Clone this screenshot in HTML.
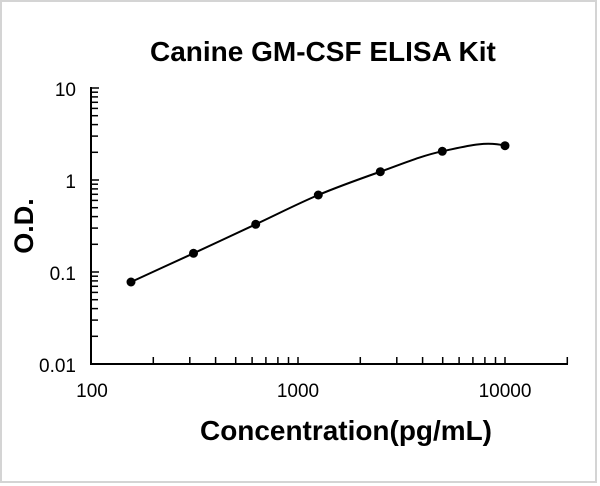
<!DOCTYPE html>
<html>
<head>
<meta charset="utf-8">
<style>
  html,body{margin:0;padding:0;background:#fff;}
  body{width:600px;height:486px;overflow:hidden;}
  svg{display:block;}
  text{font-family:"Liberation Sans", Arial, sans-serif;fill:#000;}
</style>
</head>
<body>
<svg width="600" height="486" viewBox="0 0 600 486" xmlns="http://www.w3.org/2000/svg">
  <rect x="0" y="0" width="600" height="486" fill="#fff"/>
  <!-- outer border -->
  <rect x="1" y="1" width="595" height="481" fill="none" stroke="#d4d4d4" stroke-width="2"/>

  <!-- Title -->
  <text x="150" y="61" font-size="28" font-weight="bold">Canine GM-CSF ELISA Kit</text>

  <!-- Axes -->
  <line x1="91" y1="87" x2="91" y2="365" stroke="#000" stroke-width="2"/>
  <line x1="90" y1="364" x2="568" y2="364" stroke="#000" stroke-width="2"/>

  <!-- Y ticks (inside, to the right) -->
  <g stroke="#000" stroke-width="1.5">
    <line x1="91" y1="88" x2="99" y2="88"/>
    <line x1="91" y1="180" x2="99" y2="180"/>
    <line x1="91" y1="272" x2="99" y2="272"/>
    <line x1="91" y1="336.3" x2="98" y2="336.3"/>
    <line x1="91" y1="320.1" x2="98" y2="320.1"/>
    <line x1="91" y1="308.6" x2="98" y2="308.6"/>
    <line x1="91" y1="299.7" x2="98" y2="299.7"/>
    <line x1="91" y1="292.4" x2="98" y2="292.4"/>
    <line x1="91" y1="286.3" x2="98" y2="286.3"/>
    <line x1="91" y1="280.9" x2="98" y2="280.9"/>
    <line x1="91" y1="276.2" x2="98" y2="276.2"/>
    <line x1="91" y1="244.3" x2="98" y2="244.3"/>
    <line x1="91" y1="228.1" x2="98" y2="228.1"/>
    <line x1="91" y1="216.6" x2="98" y2="216.6"/>
    <line x1="91" y1="207.7" x2="98" y2="207.7"/>
    <line x1="91" y1="200.4" x2="98" y2="200.4"/>
    <line x1="91" y1="194.3" x2="98" y2="194.3"/>
    <line x1="91" y1="188.9" x2="98" y2="188.9"/>
    <line x1="91" y1="184.2" x2="98" y2="184.2"/>
    <line x1="91" y1="152.3" x2="98" y2="152.3"/>
    <line x1="91" y1="136.1" x2="98" y2="136.1"/>
    <line x1="91" y1="124.6" x2="98" y2="124.6"/>
    <line x1="91" y1="115.7" x2="98" y2="115.7"/>
    <line x1="91" y1="108.4" x2="98" y2="108.4"/>
    <line x1="91" y1="102.3" x2="98" y2="102.3"/>
    <line x1="91" y1="96.9" x2="98" y2="96.9"/>
    <line x1="91" y1="92.2" x2="98" y2="92.2"/>
  </g>

  <!-- X ticks (inside, upward) -->
  <g stroke="#000" stroke-width="1.5">
    <line x1="153.3" y1="364" x2="153.3" y2="357"/>
    <line x1="189.8" y1="364" x2="189.8" y2="357"/>
    <line x1="215.6" y1="364" x2="215.6" y2="357"/>
    <line x1="235.7" y1="364" x2="235.7" y2="357"/>
    <line x1="252.1" y1="364" x2="252.1" y2="357"/>
    <line x1="265.9" y1="364" x2="265.9" y2="357"/>
    <line x1="277.9" y1="364" x2="277.9" y2="357"/>
    <line x1="288.5" y1="364" x2="288.5" y2="357"/>
    <line x1="298" y1="364" x2="298" y2="357"/>
    <line x1="360.3" y1="364" x2="360.3" y2="357"/>
    <line x1="396.8" y1="364" x2="396.8" y2="357"/>
    <line x1="422.6" y1="364" x2="422.6" y2="357"/>
    <line x1="442.7" y1="364" x2="442.7" y2="357"/>
    <line x1="459.1" y1="364" x2="459.1" y2="357"/>
    <line x1="472.9" y1="364" x2="472.9" y2="357"/>
    <line x1="484.9" y1="364" x2="484.9" y2="357"/>
    <line x1="495.5" y1="364" x2="495.5" y2="357"/>
    <line x1="505" y1="364" x2="505" y2="357"/>
    <line x1="567.3" y1="364" x2="567.3" y2="357"/>
  </g>

  <!-- Y tick labels -->
  <g font-size="19" text-anchor="end">
    <text x="76" y="96">10</text>
    <text x="76" y="188">1</text>
    <text x="76" y="280">0.1</text>
    <text x="76" y="372">0.01</text>
  </g>

  <!-- X tick labels -->
  <g font-size="19" text-anchor="middle">
    <text x="92" y="397">100</text>
    <text x="298" y="397">1000</text>
    <text x="505" y="397">10000</text>
  </g>

  <!-- Axis titles -->
  <text x="200" y="440" font-size="28" font-weight="bold" textLength="292" lengthAdjust="spacingAndGlyphs">Concentration(pg/mL)</text>
  <text transform="translate(33,226) rotate(-90)" text-anchor="middle" font-size="27" font-weight="bold">O.D.</text>

  <!-- Curve -->
  <path d="M131,282 C151.8,272.4 172.7,262.9 193.5,253.3
           C214.3,243.7 234.9,234.0 255.7,224.3
           C276.5,214.6 297.5,203.8 318.3,195
           C339.1,186.2 359.6,179.0 380.3,171.7
           C401.0,164.4 421.5,155.6 442.3,151.3
           C463.1,147.0 484,140.5 505,145.7"
        fill="none" stroke="#000" stroke-width="2"/>

  <!-- Points -->
  <g fill="#000">
    <circle cx="131" cy="282" r="4.5"/>
    <circle cx="193.5" cy="253.3" r="4.5"/>
    <circle cx="255.7" cy="224.3" r="4.5"/>
    <circle cx="318.3" cy="195" r="4.5"/>
    <circle cx="380.3" cy="171.7" r="4.5"/>
    <circle cx="442.3" cy="151.3" r="4.5"/>
    <circle cx="505" cy="145.7" r="4.5"/>
  </g>
</svg>
</body>
</html>
